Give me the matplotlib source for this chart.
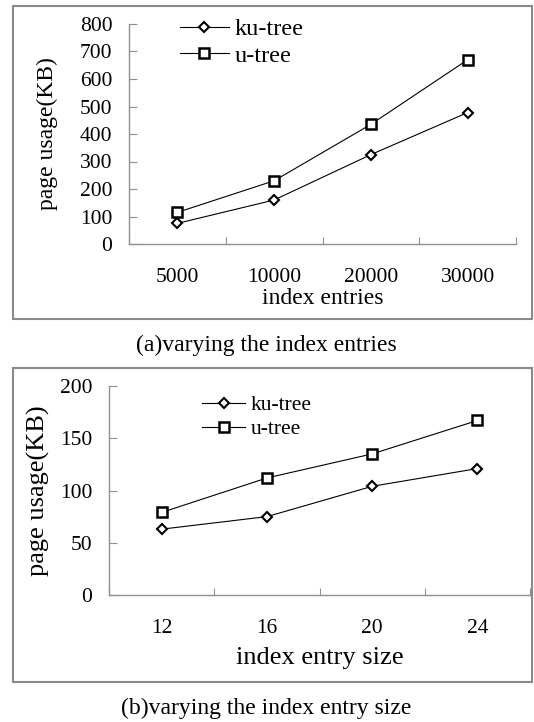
import matplotlib.pyplot as plt
from matplotlib.patches import Rectangle

W, H = 534, 722

entries_labels = ["5000", "10000", "20000", "30000"]
entries_ku = [75, 160, 325, 478]
entries_u = [115, 230, 435, 670]

size_labels = ["12", "16", "20", "24"]
size_ku = [63, 75, 104, 121]
size_u = [79, 112, 135, 167]

plt.rcParams["font.family"] = ["Liberation Serif", "DejaVu Serif"]


def fx(px):
    return px / W


def fy(py):
    return 1 - py / H


def axes_rect(left, top, right, bottom):
    return [fx(left), fy(bottom), fx(right) - fx(left), fy(top) - fy(bottom)]


def draw_panel(ax, labels, ku, u, ymax, ystep, xlabel, label_size, tick_pad, leg_size, leg_anchor):
    xs = [i + 0.5 for i in range(len(labels))]
    ax.plot(xs, ku, color="black", lw=0.8, marker="D", ms=5.5, mfc="white",
            mec="black", mew=1.5, label="ku-tree")
    ax.plot(xs, u, color="black", lw=0.8, marker="s", ms=7, mfc="white",
            mec="black", mew=1.8, label="u-tree")
    ax.set_xlim(0, len(labels))
    ax.set_ylim(0, ymax)
    ax.set_yticks(range(0, ymax + 1, ystep))
    # category boundaries get the tick marks, centres get the labels
    ax.set_xticks(range(len(labels) + 1))
    ax.set_xticklabels([])
    ax.set_xticks(xs, minor=True)
    ax.set_xticklabels(labels, minor=True)
    ax.tick_params(axis="x", which="major", direction="in", length=5, color="#909090")
    ax.tick_params(axis="x", which="minor", length=0, pad=tick_pad, labelsize=15.5)
    ax.tick_params(axis="y", direction="in", length=6, color="#909090", pad=12, labelsize=15.5)
    for side in ("top", "right"):
        ax.spines[side].set_visible(False)
    for side in ("left", "bottom"):
        ax.spines[side].set_color("#909090")
        ax.spines[side].set_linewidth(1.0)
    ax.set_xlabel(xlabel, fontsize=label_size, va="center")
    ax.set_ylabel("page usage(KB)", fontsize=label_size, va="center")
    ax.legend(loc="upper left", bbox_to_anchor=leg_anchor, bbox_transform=fig.transFigure,
              frameon=False, fontsize=leg_size, handlelength=2.0, handletextpad=0.25,
              labelspacing=0.2, borderpad=0, borderaxespad=0)


fig = plt.figure(figsize=(W / 100, H / 100), dpi=100)

# grey boxes round each panel
for top, bottom in ((6, 319), (368, 682)):
    fig.patches.append(Rectangle((fx(13), fy(bottom)), fx(532) - fx(13), fy(top) - fy(bottom),
                                 transform=fig.transFigure, fill=False,
                                 edgecolor="#8a8a8a", lw=1.5))

ax1 = fig.add_axes(axes_rect(129, 24, 516, 244))
draw_panel(ax1, entries_labels, entries_ku, entries_u, 800, 100, "index entries",
           17, 17, 17.5, (fx(180), fy(18)))
ax1.yaxis.set_label_coords((47 - 129) / (516 - 129), 0.5)
ax1.xaxis.set_label_coords(0.5, -(299 - 244) / (244 - 24))

ax2 = fig.add_axes(axes_rect(109, 386, 530, 595))
draw_panel(ax2, size_labels, size_ku, size_u, 200, 50, "index entry size",
           19, 17, 15.5, (fx(202), fy(395)))
ax2.yaxis.set_label_coords((38 - 109) / (530 - 109), 0.5)
ax2.xaxis.set_label_coords(0.5, -(658 - 595) / (595 - 386))

fig.text(fx(266), fy(345), "(a)varying the index entries", ha="center", va="center", fontsize=17)
fig.text(fx(266), fy(708), "(b)varying the index entry size", ha="center", va="center", fontsize=17)

fig.savefig("out.png", dpi=100)
